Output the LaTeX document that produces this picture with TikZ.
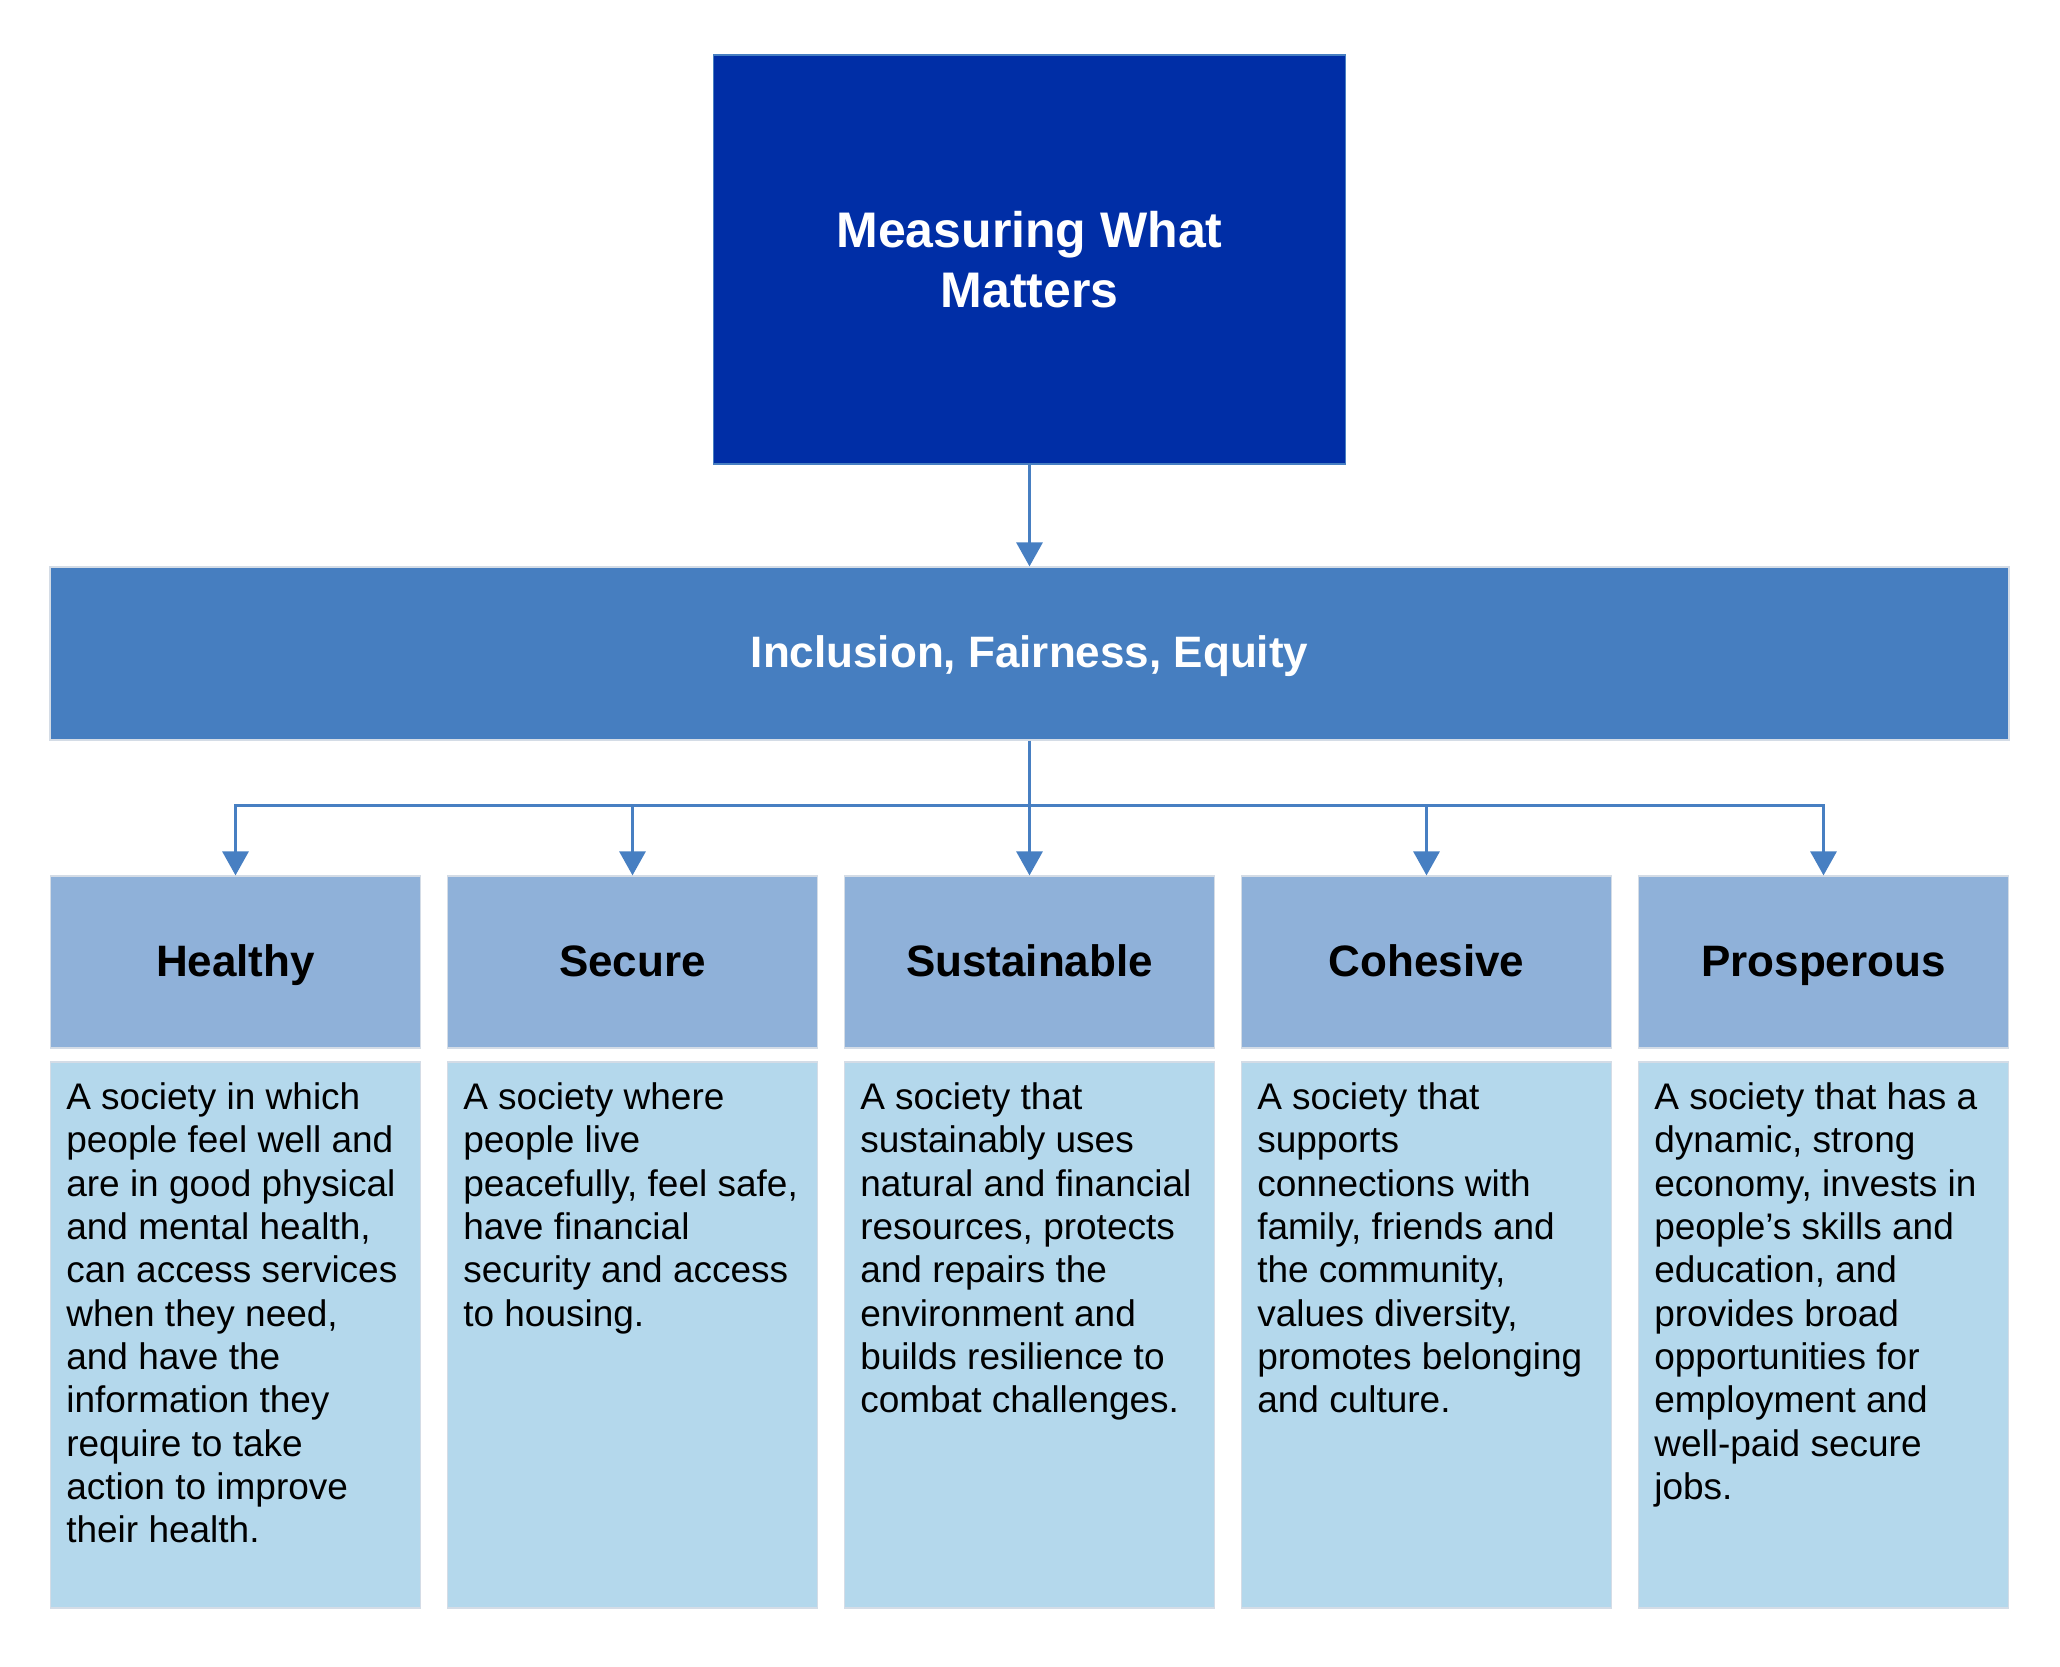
\documentclass[tikz,border=0pt]{standalone}
\usepackage{fontspec}
\setmainfont{Liberation Sans}
\usetikzlibrary{arrows.meta}
\definecolor{navy}{RGB}{0,46,166}
\definecolor{midblue}{RGB}{70,126,192}
\definecolor{headblue}{RGB}{143,177,217}
\definecolor{descblue}{RGB}{180,216,236}
\definecolor{edgegray}{RGB}{212,220,230}
\definecolor{arrowblue}{RGB}{71,127,194}
\begin{document}
\begin{tikzpicture}[x=0.5pt,y=-0.5pt,
  box/.style={rectangle, inner sep=0pt, draw=edgegray, line width=0.6pt},
  topbox/.style={box, draw=arrowblue, fill=navy, minimum width=316pt, minimum height=204.5pt,
    text=white, align=center, font=\bfseries\fontsize{25}{30}\selectfont},
  inclbox/.style={box, fill=midblue, minimum width=979.5pt, minimum height=86.5pt,
    text=white, text height=14pt, text depth=0pt, font=\bfseries\fontsize{22}{26}\selectfont},
  headbox/.style={box, fill=headblue, minimum width=185pt, minimum height=86pt,
    text=black, text height=14pt, text depth=0pt, font=\bfseries\fontsize{22}{26}\selectfont},
  descbox/.style={box, fill=descblue, minimum width=185pt, minimum height=273pt},
  desctext/.style={anchor=north west, inner sep=0pt, align=left, text=black,
    font=\fontsize{18.5}{21.65}\selectfont},
  link/.style={draw=arrowblue, line width=1.5pt},
  conn/.style={link, -{Triangle[width=13pt,length=12pt]}}
]
\useasboundingbox (0,0) rectangle (2060,1666);

\node[topbox] (top) at (1029.5,259.5) {Measuring What\\Matters};
\node[inclbox] (incl) at (1029.5,653.5) {Inclusion, Fairness, Equity};

\foreach \n/\cx/\t in {h1/235.5/Healthy, h2/632.5/Secure, h3/1029.5/Sustainable, h4/1426.5/Cohesive, h5/1823.5/Prosperous}{
  \node[headbox] (\n) at (\cx,962) {\t};
  \node[descbox] (d\n) at (\cx,1335) {};
}

\node[desctext] (t1) at ([xshift=8pt,yshift=-10.5pt]dh1.north west) {A society in which\\people feel well and\\are in good physical\\and mental health,\\can access services\\when they need,\\and have the\\information they\\require to take\\action to improve\\their health.};
\node[desctext] (t2) at ([xshift=8pt,yshift=-10.5pt]dh2.north west) {A society where\\people live\\peacefully, feel safe,\\have financial\\security and access\\to housing.};
\node[desctext] (t3) at ([xshift=8pt,yshift=-10.5pt]dh3.north west) {A society that\\sustainably uses\\natural and financial\\resources, protects\\and repairs the\\environment and\\builds resilience to\\combat challenges.};
\node[desctext] (t4) at ([xshift=8pt,yshift=-10.5pt]dh4.north west) {A society that\\supports\\connections with\\family, friends and\\the community,\\values diversity,\\promotes belonging\\and culture.};
\node[desctext] (t5) at ([xshift=8pt,yshift=-10.5pt]dh5.north west) {A society that has a\\dynamic, strong\\economy, invests in\\people’s skills and\\education, and\\provides broad\\opportunities for\\employment and\\well-paid secure\\jobs.};

\coordinate (bus) at (1029.5,805);
\draw[conn] (top.south) -- (incl.north);
\draw[link] (incl.south) -- (bus);
\foreach \n in {h1,h2,h3,h4,h5}{
  \draw[conn] (bus) -| (\n.north);
}
\end{tikzpicture}
\end{document}
